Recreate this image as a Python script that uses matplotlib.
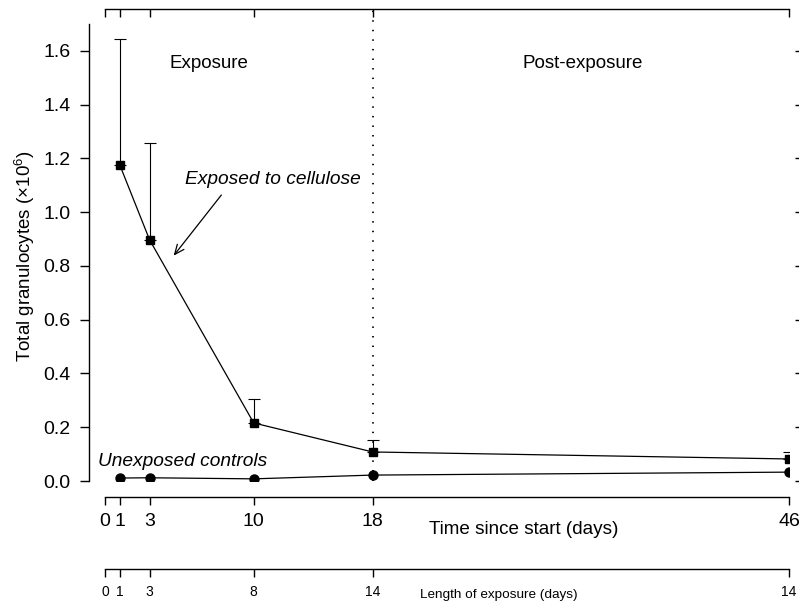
import matplotlib
matplotlib.use("Agg")
import matplotlib.pyplot as plt
import numpy as np

plt.rcParams['font.family'] = ['Liberation Sans', 'DejaVu Sans']
plt.rcParams['mathtext.fontset'] = 'custom'
plt.rcParams['mathtext.rm'] = 'Liberation Sans'
plt.rcParams['mathtext.it'] = 'Liberation Sans:italic'

# time since start (days) and length of exposure labels
days = [1, 3, 10, 18, 46]
time_ticks = [0, 1, 3, 10, 18, 46]
exposure_labels = ['0', '1', '3', '8', '14', '14']

# exposed to cellulose: mean and upper error
exposed = [1.175, 0.897, 0.216, 0.108, 0.082]
exposed_err = [0.470, 0.361, 0.089, 0.045, 0.026]

# unexposed controls
controls = [0.011, 0.012, 0.008, 0.022, 0.033]

y_ticks = [0.0, 0.2, 0.4, 0.6, 0.8, 1.0, 1.2, 1.4, 1.6]

W, H = 799, 602
fig = plt.figure(figsize=(W / 100, H / 100), dpi=100)

x0, x1 = 105, 789
ytop, ybot = 9, 481
ax = fig.add_axes([x0 / W, 1 - ybot / H, (x1 - x0) / W, (ybot - ytop) / H])
ax.set_xlim(0, 46)
ax.set_ylim(0, 1.756)

# data
ax.errorbar(days, exposed, yerr=[np.zeros(len(exposed)), exposed_err], fmt='none',
            ecolor='black', elinewidth=0.8, capsize=4, capthick=0.8)
ax.plot(days, exposed, color='black', lw=0.9, marker='s', markersize=5.5)
ax.plot(days, controls, color='black', lw=0.9, marker='o', markersize=6.5)
ax.axvline(18, color='black', lw=1.3, linestyle=(0, (0.8, 4.5)))

# spines
for s in ['top', 'right', 'bottom']:
    ax.spines[s].set_visible(False)
ax.spines['left'].set_position(('outward', 11.5))
ax.spines['left'].set_bounds(0, 1.7)
ax.spines['bottom'].set_visible(True)
ax.spines['bottom'].set_position(('outward', 11.5))
ax.spines['bottom'].set_bounds(0, 46)
for s in ['left', 'bottom']:
    ax.spines[s].set_linewidth(1.0)

ax.set_yticks(y_ticks)
ax.set_yticklabels(['%.1f' % v for v in y_ticks])
ax.set_xticks(time_ticks)
ax.set_xticklabels([str(t) for t in time_ticks])
ax.tick_params(axis='y', direction='out', length=6.5, width=1.0, pad=7, labelsize=14)
ax.tick_params(axis='x', direction='out', length=5.8, width=1.0, pad=6, labelsize=14)

# top axis with inward ticks
ax_t = ax.twiny()
ax_t.set_xlim(0, 46)
ax_t.set_xticks(time_ticks)
ax_t.set_xticklabels([])
for s in ['bottom', 'left', 'right']:
    ax_t.spines[s].set_visible(False)
ax_t.spines['top'].set_linewidth(1.0)
ax_t.tick_params(axis='x', direction='in', length=5.8, width=1.0)

# right side ticks without a spine line
ax_r = ax.twinx()
ax_r.set_ylim(0, 1.756)
ax_r.set_yticks(y_ticks)
ax_r.set_yticklabels([])
for s in ['bottom', 'left', 'top', 'right']:
    ax_r.spines[s].set_visible(False)
ax_r.spines['right'].set_position(('outward', 4.3))
ax_r.tick_params(axis='y', direction='out', length=3, width=1.0)

# second x axis: length of exposure
ax2 = fig.add_axes([x0 / W, 1 - 569 / H, (x1 - x0) / W, 0.001])
ax2.set_xlim(0, 46)
ax2.set_yticks([])
for s in ['left', 'top', 'right']:
    ax2.spines[s].set_visible(False)
ax2.spines['bottom'].set_linewidth(1.0)
ax2.set_xticks(time_ticks)
ax2.set_xticklabels(exposure_labels)
ax2.tick_params(axis='x', direction='out', length=5.8, width=1.0, pad=5.5, labelsize=10)
ax2.patch.set_visible(False)

# text
ax.text(7.0, 1.555, 'Exposure', ha='center', va='center', fontsize=13.5)
ax.text(32.1, 1.555, 'Post-exposure', ha='center', va='center', fontsize=13.5)
ax.text(11.3, 1.12, 'Exposed to cellulose', ha='center', va='center', fontsize=13.8, style='italic')
ax.text(5.25, 0.071, 'Unexposed controls', ha='center', va='center', fontsize=13.8, style='italic')
ax.annotate('', xy=(4.5, 0.83), xytext=(7.94, 1.072),
            arrowprops=dict(arrowstyle='->,head_length=0.7,head_width=0.3', color='black', lw=0.9))

fig.text(524 / W, 1 - 530 / H, 'Time since start (days)', ha='center', va='center', fontsize=13.6)
fig.text(499 / W, 1 - 595 / H, 'Length of exposure (days)', ha='center', va='center', fontsize=9.7)
fig.text(25 / W, 1 - 256 / H, 'Total granulocytes (×10$^{6}$)', ha='center', va='center',
         fontsize=13.5, rotation=90)

fig.savefig('out.png', dpi=100)
